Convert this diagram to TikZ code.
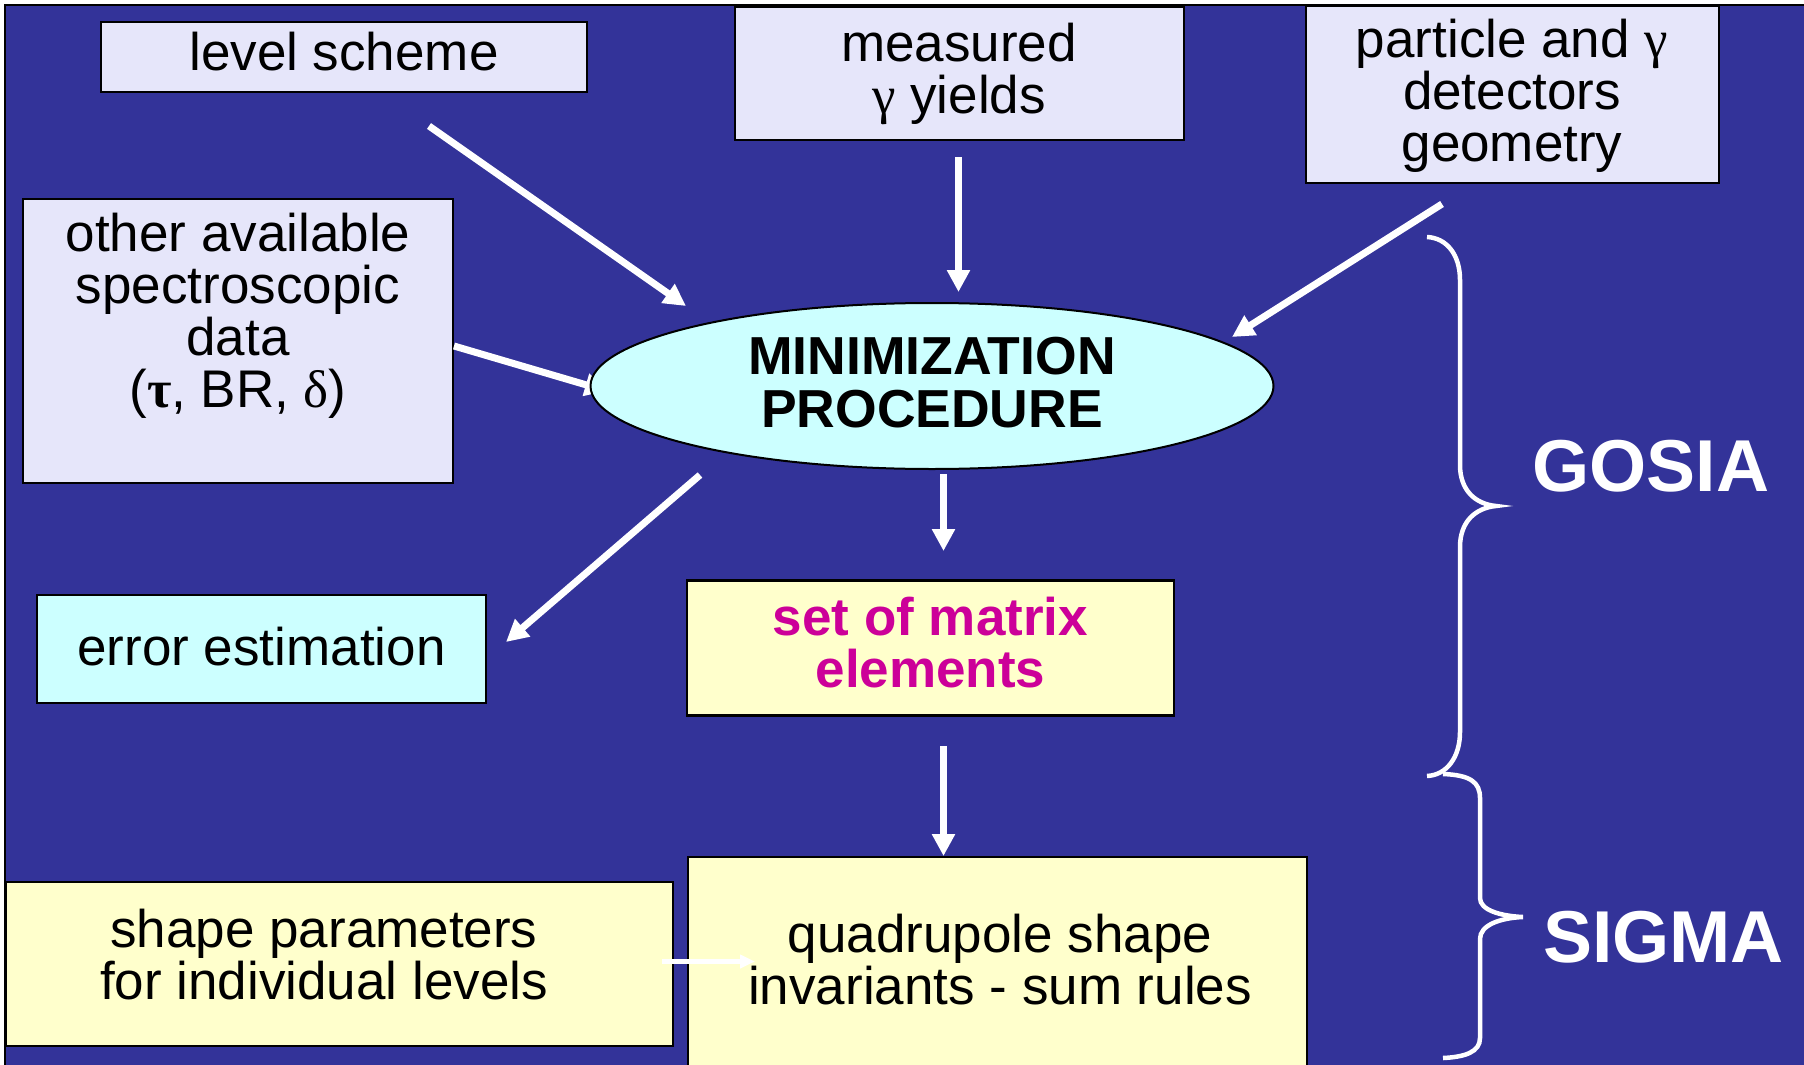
\documentclass[tikz,border=0pt]{standalone}
\usepackage{fontspec}
\setmainfont{Liberation Sans}
\newfontfamily\grk{Liberation Serif}
\usetikzlibrary{arrows.meta,shapes.geometric}
\definecolor{bgblue}{HTML}{333399}
\definecolor{lav}{HTML}{E6E6FA}
\definecolor{cyanbox}{HTML}{CCFFFF}
\definecolor{yelbox}{HTML}{FFFFCC}
\definecolor{mag}{HTML}{CC0099}
\begin{document}
\begin{tikzpicture}[x=1pt,y=-1pt,
  box/.style={draw=black, line width=2.5pt, inner sep=0pt},
  txt/.style={align=center, inner sep=0pt, font=\fontsize{53}{52}\selectfont},
  boldtxt/.style={align=center, inner sep=0pt, font=\bfseries\fontsize{53.5}{53}\selectfont},
  arr/.style={draw=white, line width=7pt, -{Triangle[length=22pt,width=22pt]}},
  smallarr/.style={draw=white, line width=5pt, -{Triangle[length=15pt,width=13pt]}},
  brace/.style={draw=white, line width=4.5pt},
  big/.style={text=white, inner sep=0pt, font=\bfseries\fontsize{73.5}{73}\selectfont}
]
\useasboundingbox (0,0) rectangle (1804,1065);
\fill[white] (0,0) rectangle (1804,1065);
\clip (0,0) rectangle (1804,1065);
\draw[fill=bgblue, line width=2pt] (5,5) rectangle (1830,1090);

% boxes
\node[box, fill=lav, minimum width=486pt, minimum height=70pt] (level) at (344,57) {};
\node[box, fill=lav, minimum width=449pt, minimum height=133pt] (meas) at (959.5,73.5) {};
\node[box, fill=lav, minimum width=413pt, minimum height=177pt] (part) at (1512.5,94.5) {};
\node[box, fill=lav, minimum width=430pt, minimum height=284pt] (other) at (238,341) {};
\node[box, fill=cyanbox, minimum width=449pt, minimum height=108pt] (err) at (261.5,649) {};
\node[box, fill=yelbox, minimum width=487pt, minimum height=135pt] (set) at (930.5,648) {};
\node[box, fill=yelbox, minimum width=667pt, minimum height=164pt] (shape) at (339.5,964) {};
\node[box, fill=yelbox, minimum width=619pt, minimum height=260pt] (quad) at (997.5,987) {};

% texts
\node[txt] (levelT) at (344,52) {level scheme};
\node[txt] (measT) at (959,74) {measured\\{\grk γ} yields};
\node[txt] (partT) at (1512,95.5) {particle and {\grk γ}\\detectors\\geometry};
\node[txt] (otherT) at (238,316) {other available\\spectroscopic\\data\\({\grk\bfseries τ}, BR, {\grk δ})};
\node[txt] (errT) at (261.5,647) {error estimation};
\node[boldtxt, text=mag, font=\bfseries\fontsize{53}{52}\selectfont] (setT) at (930.5,643) {set of matrix\\elements};
\node[txt] (shapeT) at (324,954.5) {shape parameters\\for individual levels};
\node[txt] (quadT) at (1000,959.5) {quadrupole shape\\invariants - sum rules};

% connector from other data (tip hidden under the ellipse)
\coordinate (a4s) at (454,346);
\coordinate (a4e) at (607,391);
\draw[arr] (a4s) -- (a4e);

% ellipse
\node[ellipse, draw=black, line width=2pt, fill=cyanbox, minimum width=683pt, minimum height=166pt, inner sep=0pt] (ell) at (932,386) {};
\node[boldtxt] (ellT) at (932,383) {MINIMIZATION\\PROCEDURE};

% arrows
\coordinate (a1s) at (429,126);
\coordinate (a1e) at (686,306);
\coordinate (a2s) at (958.5,157);
\coordinate (a2e) at (958.5,292);
\coordinate (a3s) at (1442,204);
\coordinate (a3e) at (1232,337);
\coordinate (a5s) at (700,475);
\coordinate (a5e) at (506,642);
\coordinate (a6s) at (943.5,474);
\coordinate (a6e) at (943.5,551);
\coordinate (a7s) at (943.5,746);
\coordinate (a7e) at (943.5,856);
\coordinate (a8s) at (662,961.5);
\coordinate (a8e) at (755,961.5);
\draw[arr] (a1s) -- (a1e);
\draw[arr] (a2s) -- (a2e);
\draw[arr] (a3s) -- (a3e);
\draw[arr] (a5s) -- (a5e);
\draw[arr] (a6s) -- (a6e);
\draw[arr] (a7s) -- (a7e);
\draw[smallarr] (a8s) -- (a8e);

% braces
\draw[brace] (1427,237) .. controls (1447,238) and (1460,255) .. (1460,280)
  -- (1460,465) .. controls (1460,490) and (1475,504) .. (1496,506)
  .. controls (1475,508) and (1460,522) .. (1460,547)
  -- (1460,732) .. controls (1460,757) and (1447,775) .. (1427,776);
\draw[brace] (1443,774) .. controls (1470,775) and (1480,782) .. (1480,798)
  -- (1480,898) .. controls (1480,910) and (1500,916) .. (1523,917)
  .. controls (1500,918) and (1480,925) .. (1480,939)
  -- (1480,1038) .. controls (1480,1052) and (1465,1057) .. (1443,1058);

\node[big] (gosia) at (1651,466) {GOSIA};
\node[big] (sigma) at (1663.5,937) {SIGMA};
\end{tikzpicture}
\end{document}
